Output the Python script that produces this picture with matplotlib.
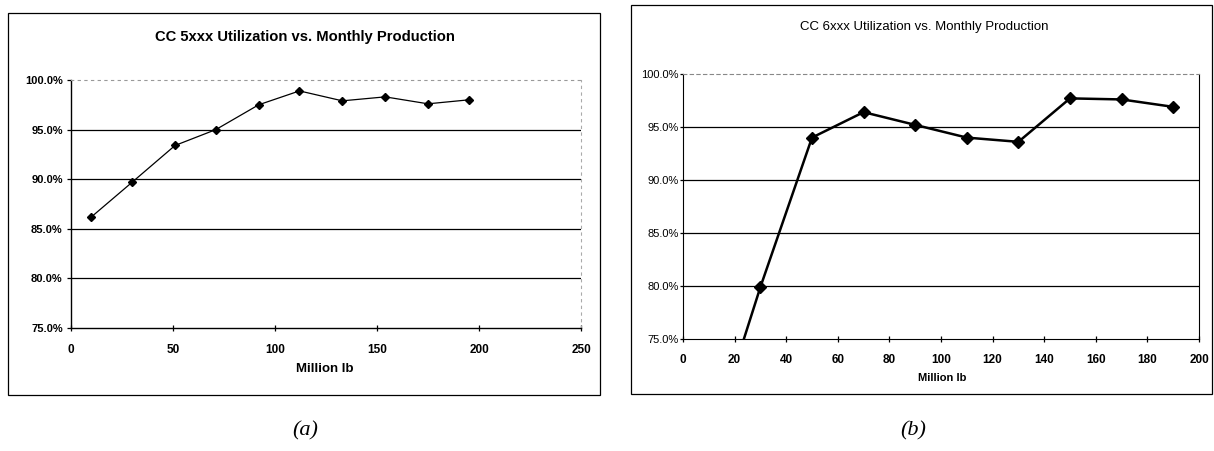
import matplotlib
matplotlib.use("Agg")
import matplotlib.pyplot as plt
from matplotlib import font_manager
from matplotlib.patches import Rectangle
from matplotlib.ticker import FuncFormatter

# 数据：左图 CC 5xxx，右图 CC 6xxx
x_5xxx = [10, 30, 51, 71, 92, 112, 133, 154, 175, 195]
util_5xxx = [86.2, 89.7, 93.4, 95.0, 97.5, 98.9, 97.9, 98.3, 97.6, 98.0]

x_6xxx = [10, 30, 50, 70, 90, 110, 130, 150, 170, 190]
util_6xxx = [64.6, 79.9, 94.0, 96.4, 95.2, 94.0, 93.6, 97.7, 97.6, 96.9]

title_a = "CC 5xxx Utilization vs. Monthly Production"
title_b = "CC 6xxx Utilization vs. Monthly Production"
xlabel = "Million lb"
y_ticks = [75, 80, 85, 90, 95, 100]
x_ticks_a = [0, 50, 100, 150, 200, 250]
x_ticks_b = list(range(0, 201, 20))

names = {f.name for f in font_manager.fontManager.ttflist}
narrow = "Liberation Sans Narrow" if "Liberation Sans Narrow" in names else "Liberation Sans"
plt.rcParams['font.family'] = ['Liberation Sans', 'DejaVu Sans']

W, H = 1214, 451
fig = plt.figure(figsize=(W / 100, H / 100), dpi=100)

def px(x0, y0, x1, y1):
    # 像素坐标 -> figure 比例
    return [x0 / W, 1 - y1 / H, (x1 - x0) / W, (y1 - y0) / H]

pct = FuncFormatter(lambda v, p: f"{v:.1f}%")

# ---- (a) ----
ax1 = fig.add_axes(px(71, 80, 581, 328))
ax1.plot(x_5xxx, util_5xxx, color='black', lw=0.9, marker='D', ms=4, mfc='black', mec='black')
ax1.set_xlim(0, 250)
ax1.set_ylim(75, 100)
ax1.set_xticks(x_ticks_a)
ax1.set_yticks(y_ticks)
ax1.yaxis.set_major_formatter(pct)
for v in [80, 85, 90, 95]:
    ax1.axhline(v, color='black', lw=0.9, zorder=0)
ax1.spines['top'].set_color('#999999')
ax1.spines['top'].set_linestyle((0, (2, 4)))
ax1.spines['right'].set_color('#aaaaaa')
ax1.spines['right'].set_linestyle((0, (2, 4)))
ax1.spines['left'].set_linewidth(1.0)
ax1.spines['bottom'].set_linewidth(1.0)
ax1.tick_params(axis='x', direction='inout', length=5, width=0.9, pad=9, labelsize=8.5)
ax1.tick_params(axis='y', direction='out', length=3, width=0.9, pad=3, labelsize=8)
for t in ax1.get_xticklabels() + ax1.get_yticklabels():
    t.set_fontweight('bold')
fig.text(305 / W, 1 - 37 / H, title_a, ha='center', va='center', fontsize=10.6, fontweight='bold')
fig.text(325 / W, 1 - 369 / H, xlabel, ha='center', va='center', fontsize=9.5, fontweight='bold')

# ---- (b) ----
ax2 = fig.add_axes(px(683, 74, 1199, 339))
ax2.plot(x_6xxx, util_6xxx, color='black', lw=1.8, marker='D', ms=6, mfc='black', mec='black', clip_on=True)
ax2.set_xlim(0, 200)
ax2.set_ylim(75, 100)
ax2.set_xticks(x_ticks_b)
ax2.set_yticks(y_ticks)
ax2.yaxis.set_major_formatter(pct)
for v in [80, 85, 90, 95]:
    ax2.axhline(v, color='black', lw=0.9, zorder=0)
ax2.spines['top'].set_color('#888888')
ax2.spines['top'].set_linestyle((0, (3, 3)))
ax2.spines['right'].set_linewidth(0.8)
ax2.tick_params(axis='x', direction='inout', length=5, width=0.9, pad=8, labelsize=8.5)
ax2.tick_params(axis='y', direction='out', length=2, width=0.9, pad=1, labelsize=8)
for t in ax2.get_xticklabels() + ax2.get_yticklabels():
    t.set_family(narrow)
for t in ax2.get_xticklabels():
    t.set_fontweight('bold')
fig.text(924 / W, 1 - 27 / H, title_b, ha='center', va='center', fontsize=9.5, family=narrow)
fig.text(942 / W, 1 - 378 / H, xlabel, ha='center', va='center', fontsize=8, fontweight='bold', family=narrow)

# 外框
fig.patches.append(Rectangle((8 / W, 1 - 395 / H), 592 / W, 382 / H, transform=fig.transFigure,
                             fill=False, ec='black', lw=0.9))
fig.patches.append(Rectangle((631 / W, 1 - 394 / H), 581 / W, 389 / H, transform=fig.transFigure,
                             fill=False, ec='black', lw=0.9))

# 子图编号
fig.text(305 / W, 1 - 431 / H, "(a)", ha='center', va='center', fontsize=16, style='italic', family='Liberation Serif')
fig.text(913 / W, 1 - 431 / H, "(b)", ha='center', va='center', fontsize=16, style='italic', family='Liberation Serif')

fig.savefig("out.png", dpi=100)
